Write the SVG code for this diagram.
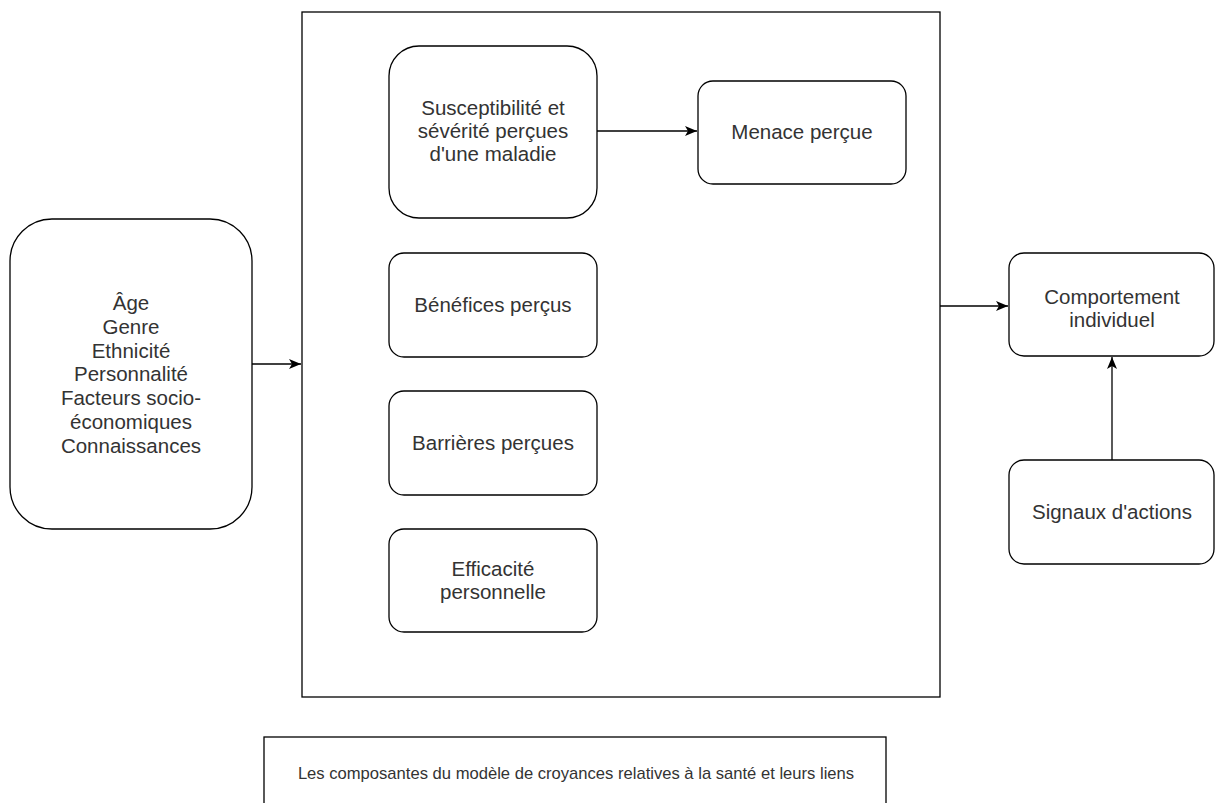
<svg xmlns="http://www.w3.org/2000/svg" width="1215" height="803" viewBox="0 0 1215 803">
<defs>
<style>
.n{fill:#fff;stroke:#000;stroke-width:1.3}
.t{font-family:"Liberation Sans",Arial,sans-serif;font-size:20.5px;fill:#333;text-anchor:middle}
.cap{font-family:"Liberation Sans",Arial,sans-serif;font-size:16.6px;fill:#333;text-anchor:middle}
.c{fill:none;stroke:#000;stroke-width:1.3}
</style>
<marker id="a" markerWidth="14" markerHeight="14" refX="12" refY="6" orient="auto" markerUnits="userSpaceOnUse">
<path d="M0,1 L12,6 L0,11 L3,6 Z" fill="#000"/>
</marker>
</defs>
<rect width="1215" height="803" fill="#fff"/>
<g id="container"><rect class="n" x="302" y="12" width="638" height="685"/></g>
<g id="facteurs"><rect class="n" x="10" y="219" width="242" height="310" rx="42"/>
<text class="t"><tspan x="131" y="310">Âge</tspan><tspan x="131" y="334">Genre</tspan><tspan x="131" y="358">Ethnicité</tspan><tspan x="131" y="381">Personnalité</tspan><tspan x="131" y="405">Facteurs socio-</tspan><tspan x="131" y="429">économiques</tspan><tspan x="131" y="453">Connaissances</tspan></text></g>
<g id="susceptibilite"><rect class="n" x="389" y="46" width="208" height="172" rx="30"/>
<text class="t"><tspan x="493" y="115">Susceptibilité et</tspan><tspan x="493" y="138">sévérité perçues</tspan><tspan x="493" y="161">d'une maladie</tspan></text></g>
<g id="menace"><rect class="n" x="698" y="81" width="208" height="103" rx="15"/>
<text class="t" x="802" y="139">Menace perçue</text></g>
<g id="benefices"><rect class="n" x="389" y="253" width="208" height="104" rx="15"/>
<text class="t" x="493" y="312">Bénéfices perçus</text></g>
<g id="barrieres"><rect class="n" x="389" y="391" width="208" height="104" rx="15"/>
<text class="t" x="493" y="450">Barrières perçues</text></g>
<g id="efficacite"><rect class="n" x="389" y="529" width="208" height="103" rx="15"/>
<text class="t"><tspan x="493" y="576">Efficacité</tspan><tspan x="493" y="599">personnelle</tspan></text></g>
<g id="comportement"><rect class="n" x="1009" y="253" width="205" height="103" rx="15"/>
<text class="t"><tspan x="1112" y="304">Comportement</tspan><tspan x="1112" y="327">individuel</tspan></text></g>
<g id="signaux"><rect class="n" x="1009" y="460" width="205" height="104" rx="15"/>
<text class="t" x="1112" y="519">Signaux d'actions</text></g>
<g id="caption"><rect class="n" x="264" y="737" width="622" height="80"/>
<text class="cap" x="576" y="779">Les composantes du modèle de croyances relatives à la santé et leurs liens</text></g>
<g id="connectors">
<path class="c" d="M252,364 L301,364" marker-end="url(#a)"/>
<path class="c" d="M597,131 L697,131" marker-end="url(#a)"/>
<path class="c" d="M940,306 L1008,306" marker-end="url(#a)"/>
<path class="c" d="M1112,460 L1112,357" marker-end="url(#a)"/>
</g>
</svg>
